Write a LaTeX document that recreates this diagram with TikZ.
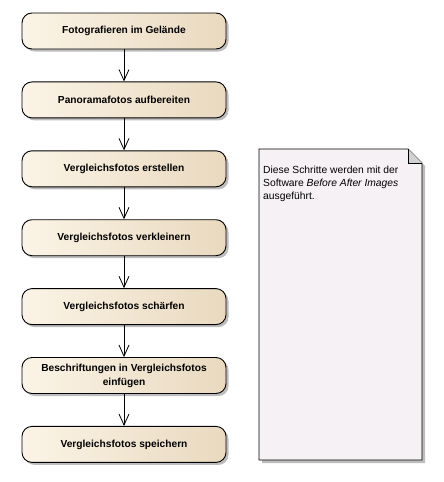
\documentclass[tikz,border=0pt]{standalone}
\usepackage{fontspec}
\setmainfont{Liberation Sans}
\usepackage{xcolor}
\usepackage{tikz}
\usetikzlibrary{positioning, arrows.meta, shadows}
\definecolor{actLight}{HTML}{FBF4E6}
\definecolor{actDark}{HTML}{E9D9BF}
\definecolor{noteFill}{HTML}{F6F1F4}
\definecolor{shadowGray}{HTML}{BDBDBD}

\tikzset{
  activity/.style={draw=black, line width=0.9pt, rounded corners=10pt,
    left color=actLight, right color=actDark,
    minimum width=204pt, minimum height=36pt, align=center,
    font=\bfseries\fontsize{10.2}{14}\selectfont,
    drop shadow={shadow xshift=2.5pt, shadow yshift=-2.5pt, fill=shadowGray, opacity=1}},
  flow/.style={-{Straight Barb[length=11pt, width=10pt, line width=0.8pt]}, line width=0.8pt}
}

\begin{document}
\begin{tikzpicture}[x=1pt, y=-1pt]
        \useasboundingbox (0,0) rectangle (444,482);
        % activities
        \node[activity] (foto) at (124,31) {Fotografieren im Gelände};
        \node[activity, below=32pt of foto] (pano) {Panoramafotos aufbereiten};
        \node[activity, below=32pt of pano] (erst) {Vergleichsfotos erstellen};
        \node[activity, below=32pt of erst] (verkl) {Vergleichsfotos verkleinern};
        \node[activity, below=32pt of verkl] (schaerf) {Vergleichsfotos schärfen};
        \node[activity, below=32pt of schaerf] (beschr) {Beschriftungen in Vergleichsfotos\\einfügen};
        \node[activity, below=32pt of beschr] (speich) {Vergleichsfotos speichern};
        % flows
        \draw[flow] (foto) -- (pano);
        \draw[flow] (pano) -- (erst);
        \draw[flow] (erst) -- (verkl);
        \draw[flow] (verkl) -- (schaerf);
        \draw[flow] (schaerf) -- (beschr);
        \draw[flow] (beschr) -- (speich);
        % note
        \fill[shadowGray] (262,152) -- (411,152) -- (425,166) -- (425,463) -- (262,463) -- cycle;
        \draw[fill=noteFill, line width=0.9pt] (259,149) -- (408,149) -- (422,163) -- (422,460) -- (259,460) -- cycle;
        \draw[fill=shadowGray!70, line width=0.6pt] (408,149) -- (408,163) -- (422,163);
        \node[anchor=north west, align=left, inner sep=0pt,
          font=\fontsize{10.3}{13}\selectfont] (note) at (263,165.5)
          {Diese Schritte werden mit der\\Software \textit{Before After Images}\\ausgeführt.};
\end{tikzpicture}
\end{document}
